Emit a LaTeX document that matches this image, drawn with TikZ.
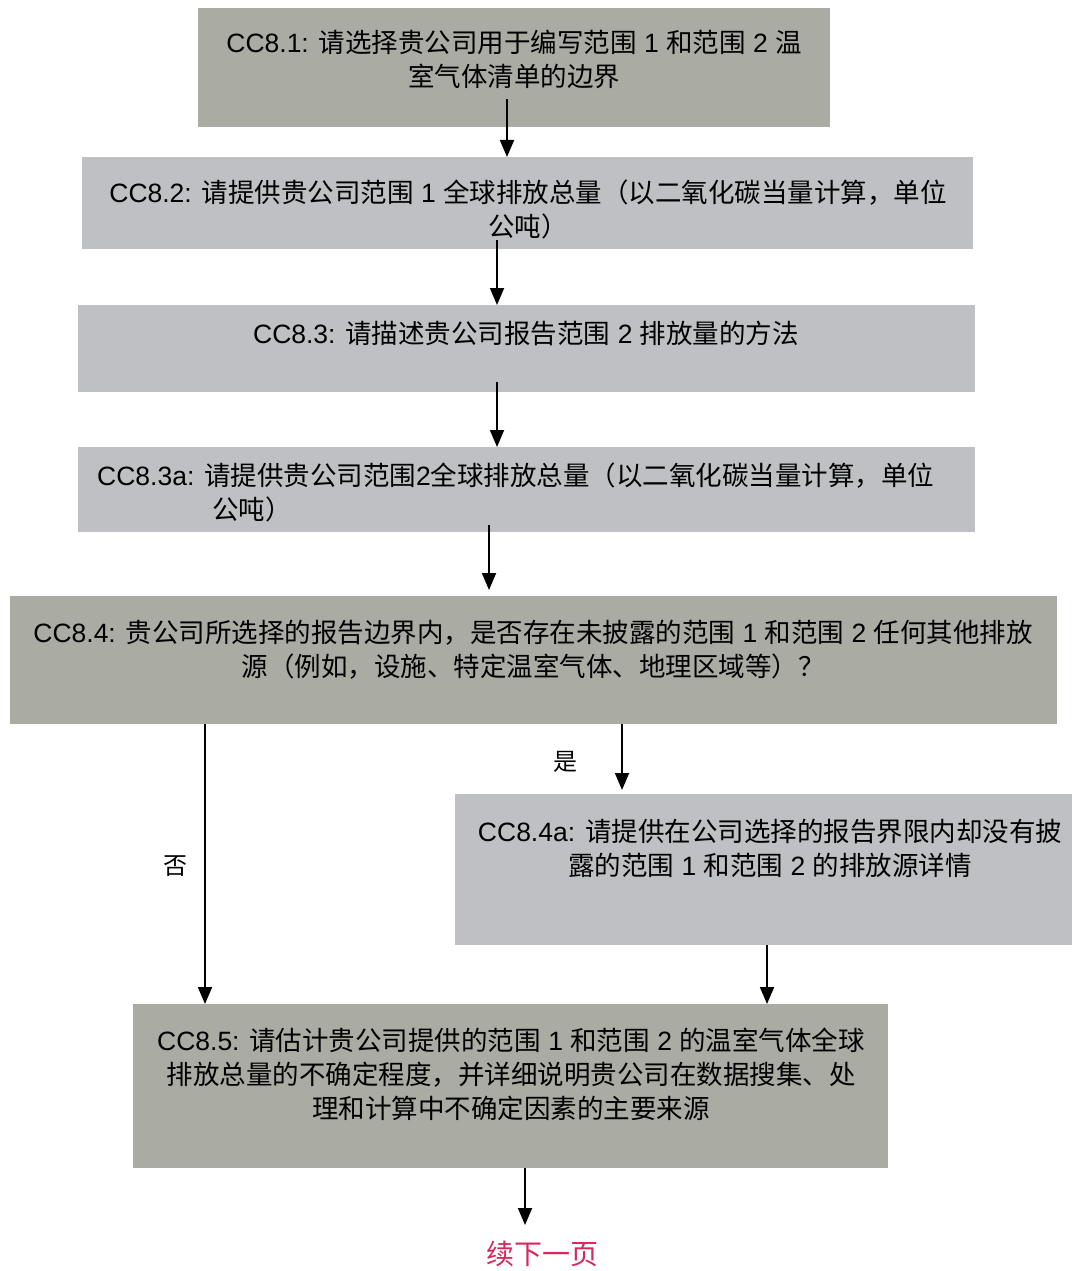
\documentclass[tikz,border=0pt]{standalone}
\usepackage{fontspec}
\setmainfont{Liberation Sans}
\newfontfamily\cjk{Noto Sans CJK SC}
\usetikzlibrary{arrows.meta}
\newcommand\zh[1]{{\cjk #1}}
\definecolor{boxdark}{RGB}{170,172,163}
\definecolor{boxlight}{RGB}{191,192,195}
\definecolor{nextred}{RGB}{214,40,90}
\begin{document}
\begin{tikzpicture}[x=1pt,y=-1pt,
  panel/.style={draw=none,inner sep=0pt,anchor=north west},
  dark/.style={panel,fill=boxdark},
  light/.style={panel,fill=boxlight},
  txt/.style={inner sep=0pt,anchor=base,align=center,font=\fontsize{26.5}{34}\selectfont},
  lbl/.style={inner sep=0pt,font=\fontsize{24}{28}\selectfont\cjk},
  arr/.style={line width=1.8pt,-{Triangle[width=14pt,length=17pt]}}]
\path[use as bounding box] (0,0) rectangle (1073,1271);

% question boxes
\node[dark,minimum width=632pt,minimum height=119pt] (b1) at (198,8) {};
\node[light,minimum width=891pt,minimum height=92pt] (b2) at (82,157) {};
\node[light,minimum width=897pt,minimum height=87pt] (b3) at (78,305) {};
\node[light,minimum width=897pt,minimum height=85pt] (b4) at (78,447) {};
\node[dark,minimum width=1047pt,minimum height=128pt] (b5) at (10,596) {};
\node[light,minimum width=617pt,minimum height=151pt] (b6) at (455,794) {};
\node[dark,minimum width=755pt,minimum height=164pt] (b7) at (133,1004) {};

% question texts (anchored at the baseline of the last line)
\node[txt] (t1) at (514,87) {CC8.1: \zh{请选择贵公司用于编写范围} 1 \zh{和范围} 2 \zh{温}\\\zh{室气体清单的边界}};
\node[txt] (t2) at (528,236) {CC8.2: \zh{请提供贵公司范围} 1 \zh{全球排放总量（以二氧化碳当量计算，单位}\\\zh{公吨）}};
\node[txt] (t3) at (526,343) {CC8.3: \zh{请描述贵公司报告范围} 2 \zh{排放量的方法}};
\node[txt,anchor=base west,align=left] (t4) at (97,519) {CC8.3a: \zh{请提供贵公司范围}2\zh{全球排放总量（以二氧化碳当量计算，单位}\\\hspace*{115pt}\zh{公吨）}};
\node[txt] (t5) at (533,676) {CC8.4: \zh{贵公司所选择的报告边界内，是否存在未披露的范围} 1 \zh{和范围} 2 \zh{任何其他排放}\\\zh{源（例如，设施、特定温室气体、地理区域等）？}};
\node[txt] (t6) at (770,875) {CC8.4a: \zh{请提供在公司选择的报告界限内却没有披}\\\zh{露的范围} 1 \zh{和范围} 2 \zh{的排放源详情}};
\node[txt] (t7) at (511,1118) {CC8.5: \zh{请估计贵公司提供的范围} 1 \zh{和范围} 2 \zh{的温室气体全球}\\\zh{排放总量的不确定程度，并详细说明贵公司在数据搜集、处}\\\zh{理和计算中不确定因素的主要来源}};

% branch labels and continuation note
\node[lbl] (no) at (175,866) {否};
\node[lbl] (yes) at (565,762) {是};
\node[lbl,text=nextred,font=\fontsize{28}{32}\selectfont\cjk] (cont) at (542,1254) {续下一页};

% connectors
\coordinate (s1) at (507,99);
\coordinate (s2) at (497,240);
\coordinate (s3) at (497,382);
\coordinate (s4) at (489,525);
\coordinate (e4) at (489,590);
\coordinate (s5) at (205,724);
\coordinate (s6) at (622,724);
\coordinate (e6) at (622,790);
\coordinate (s7) at (767,945);
\coordinate (s8) at (525,1168);
\coordinate (e8) at (525,1225);

\draw[arr] (s1) -- (s1 |- b2.north);
\draw[arr] (s2) -- (s2 |- b3.north);
\draw[arr] (s3) -- (s3 |- b4.north);
\draw[arr] (s4) -- (e4);
\draw[arr] (s5) -- (s5 |- b7.north);
\draw[arr] (s6) -- (e6);
\draw[arr] (s7) -- (s7 |- b7.north);
\draw[arr] (s8) -- (e8);
\end{tikzpicture}
\end{document}
